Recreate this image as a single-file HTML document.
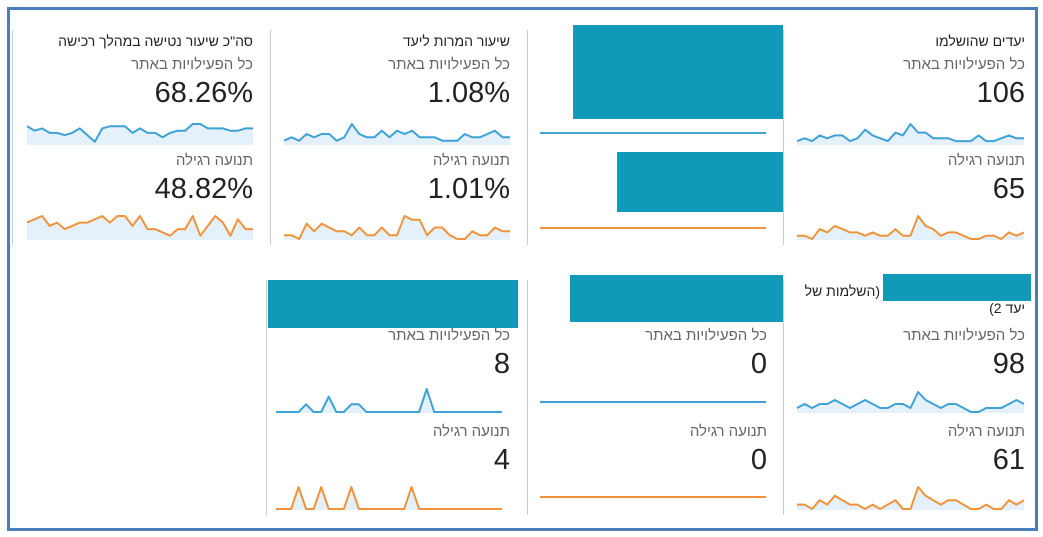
<!DOCTYPE html>
<html><head><meta charset="utf-8">
<style>
body{margin:0;width:1043px;height:537px;background:#fff;overflow:hidden;position:relative;font-family:"Liberation Sans","Noto Sans CJK SC",sans-serif}
.frame{position:absolute;left:7px;top:7px;width:1025px;height:518px;border:3px solid #4a7ebb}
.t{position:absolute;direction:rtl;text-align:right;white-space:nowrap}
.title{font-size:14px;color:#222}
.sub{font-size:15px;color:#666}
.val{font-size:29px;color:#222}
.sep{position:absolute;width:1px;background:#ccc}
.box{position:absolute;background:#0f9aba}
svg.sp{position:absolute;overflow:visible}
</style></head><body>
<div class="frame"></div>

<div class="sep" style="left:12px;top:30px;height:215px"></div>
<div class="sep" style="left:270px;top:30px;height:215px"></div>
<div class="sep" style="left:527px;top:30px;height:215px"></div>
<div class="sep" style="left:783px;top:30px;height:215px"></div>
<div class="sep" style="left:266px;top:280px;height:235px"></div>
<div class="sep" style="left:527px;top:280px;height:235px"></div>
<div class="sep" style="left:783px;top:280px;height:235px"></div>

<!-- Row 1 panel 1 -->
<div class="t title" style="right:790px;top:33px">סה"כ שיעור נטישה במהלך רכישה</div>
<div class="t sub" style="right:790px;top:56px">כל הפעילויות באתר</div>
<div class="t val" style="right:790px;top:77px">68.26%</div>
<div class="t sub" style="right:790px;top:152px">תנועה רגילה</div>
<div class="t val" style="right:790px;top:173px">48.82%</div>

<!-- Row 1 panel 2 -->
<div class="t title" style="right:533px;top:33px">שיעור המרות ליעד</div>
<div class="t sub" style="right:533px;top:56px">כל הפעילויות באתר</div>
<div class="t val" style="right:533px;top:77px">1.08%</div>
<div class="t sub" style="right:533px;top:152px">תנועה רגילה</div>
<div class="t val" style="right:533px;top:173px">1.01%</div>

<!-- Row 1 panel 3 -->
<div class="box" style="left:573px;top:25px;width:210px;height:94px"></div>
<div class="box" style="left:617px;top:152px;width:166px;height:60px"></div>

<!-- Row 1 panel 4 -->
<div class="t title" style="right:18px;top:33px">יעדים שהושלמו</div>
<div class="t sub" style="right:18px;top:56px">כל הפעילויות באתר</div>
<div class="t val" style="right:18px;top:77px">106</div>
<div class="t sub" style="right:18px;top:152px">תנועה רגילה</div>
<div class="t val" style="right:18px;top:173px">65</div>

<!-- Row 2 panel 2 -->
<div class="box" style="left:268px;top:280px;width:250px;height:48px"></div>
<div class="t sub" style="right:533px;top:327px">כל הפעילויות באתר</div>
<div class="t val" style="right:533px;top:348px">8</div>
<div class="t sub" style="right:533px;top:423px">תנועה רגילה</div>
<div class="t val" style="right:533px;top:444px">4</div>

<!-- Row 2 panel 3 -->
<div class="box" style="left:570px;top:275px;width:213px;height:47px"></div>
<div class="t sub" style="right:276px;top:327px">כל הפעילויות באתר</div>
<div class="t val" style="right:276px;top:348px">0</div>
<div class="t sub" style="right:276px;top:423px">תנועה רגילה</div>
<div class="t val" style="right:276px;top:444px">0</div>

<!-- Row 2 panel 4 -->
<div class="box" style="left:883px;top:274px;width:148px;height:27px"></div>
<div class="t title" style="right:163px;top:283px">(השלמות של</div>
<div class="t title" style="right:18px;top:300px">יעד 2)</div>
<div class="t sub" style="right:18px;top:327px">כל הפעילויות באתר</div>
<div class="t val" style="right:18px;top:348px">98</div>
<div class="t sub" style="right:18px;top:423px">תנועה רגילה</div>
<div class="t val" style="right:18px;top:444px">61</div>

<script>
const abandonAll=[8,6,7,5,5,4,5,7,4,1,7,8,8,8,5,7,5,5,3,5,6,6,9,9,7,7,7,6,6,7,7];
const abandonOrganic=[5,6,7,4,5,3,4,5,5,6,7,5,7,7,4,7,3,3,2,1,3,3,7,1,4,7,5,1,6,3,3];
const convAll=[1,2,1,3,2,3,3,1,2,6,3,2,2,4,2,4,3,4,2,2,2,1,1,1,3,2,2,3,4,2,2];
const convOrganic=[1,1,0,4,2,4,3,2,2,1,3,1,1,3,1,1,6,5,5,1,3,3,1,0,0,2,1,1,3,2,2];
const goalsAll=[1,2,1,3,2,3,3,1,2,5,3,2,1,4,3,7,4,4,2,2,2,1,1,1,3,1,1,2,3,2,2];
const goalsOrganic=[1,1,0,3,2,4,3,2,2,1,2,1,1,3,1,1,7,4,3,1,2,2,1,0,0,1,1,0,2,1,2];
const r2p2All=[0,0,0,0,1,0,0,2,0,0,1,1,0,0,0,0,0,0,0,0,3,0,0,0,0,0,0,0,0,0,0];
const r2p2Organic=[0,0,0,1,0,0,1,0,0,0,1,0,0,0,0,0,0,0,1,0,0,0,0,0,0,0,0,0,0,0,0];
const r2p3All=[0,0,0,0,0,0,0,0,0,0,0,0,0,0,0,0,0,0,0,0,0,0,0,0,0,0,0,0,0,0,0];
const r2p3Organic=[0,0,0,0,0,0,0,0,0,0,0,0,0,0,0,0,0,0,0,0,0,0,0,0,0,0,0,0,0,0,0];
const goal2All=[1,2,1,2,2,3,2,1,2,3,2,1,1,2,2,1,5,3,2,1,2,2,1,0,0,1,1,1,2,3,2];
const goal2Organic=[1,1,0,2,1,3,2,1,1,0,1,0,1,2,0,0,5,3,2,1,2,2,1,0,0,1,0,0,2,1,2];

const NS='http://www.w3.org/2000/svg';
function spark(data,x,y,w,h,color,name,fill,flatY){
  const svg=document.createElementNS(NS,'svg');
  svg.setAttribute('class','sp');
  svg.setAttribute('width',w);svg.setAttribute('height',h);
  svg.style.left=x+'px';svg.style.top=y+'px';
  
  
  const mx=Math.max(...data);
  const xs=i=>i*w/(data.length-1);
  const ys=v=>mx>0?h-1-(v/mx)*(h-3):(flatY!==undefined?flatY:h-1);
  let pts=data.map((v,i)=>xs(i).toFixed(1)+','+ys(v).toFixed(1)).join(' ');
  if(fill){
    const poly=document.createElementNS(NS,'polygon');
    poly.setAttribute('points','0,'+h+' '+pts+' '+w+','+h);
    poly.setAttribute('fill','#e4f0fa');
    
    
    svg.appendChild(poly);
  }
  const pl=document.createElementNS(NS,'polyline');
  pl.setAttribute('points',pts);
  pl.setAttribute('fill','none');pl.setAttribute('stroke',color);pl.setAttribute('stroke-width','2');
  pl.setAttribute('stroke-linejoin','round');
  
  
  svg.appendChild(pl);
  document.body.appendChild(svg);
}
const B='#3ea2d6',O='#f0943c';
spark(abandonAll,27,122,226,23,B,'abandon-all-sparkline',true);
spark(abandonOrganic,27,214,226,26,O,'abandon-organic-sparkline',true);
spark(convAll,284,122,226,23,B,'conversion-all-sparkline',true);
spark(convOrganic,284,214,226,26,O,'conversion-organic-sparkline',true);
spark(goalsAll,797,122,227,23,B,'goals-all-sparkline',true);
spark(goalsOrganic,797,214,227,26,O,'goals-organic-sparkline',true);
spark(r2p3All.slice(),540,118,226,30,B,'redacted-all-sparkline',false,15);
spark(r2p3Organic.slice(),540,213,226,30,O,'redacted-organic-sparkline',false,15);
spark(r2p2All,276,387,226,26,B,'r2p2-all-sparkline',true);
spark(r2p2Organic,276,485,226,25,O,'r2p2-organic-sparkline',true);
spark(r2p3All,540,387,226,30,B,'r2p3-all-sparkline',false,15);
spark(r2p3Organic,540,482,226,30,O,'r2p3-organic-sparkline',false,15);
spark(goal2All,797,390,227,23,B,'goal2-all-sparkline',true);
spark(goal2Organic,797,485,227,25,O,'goal2-organic-sparkline',true);
</script>
</body></html>
